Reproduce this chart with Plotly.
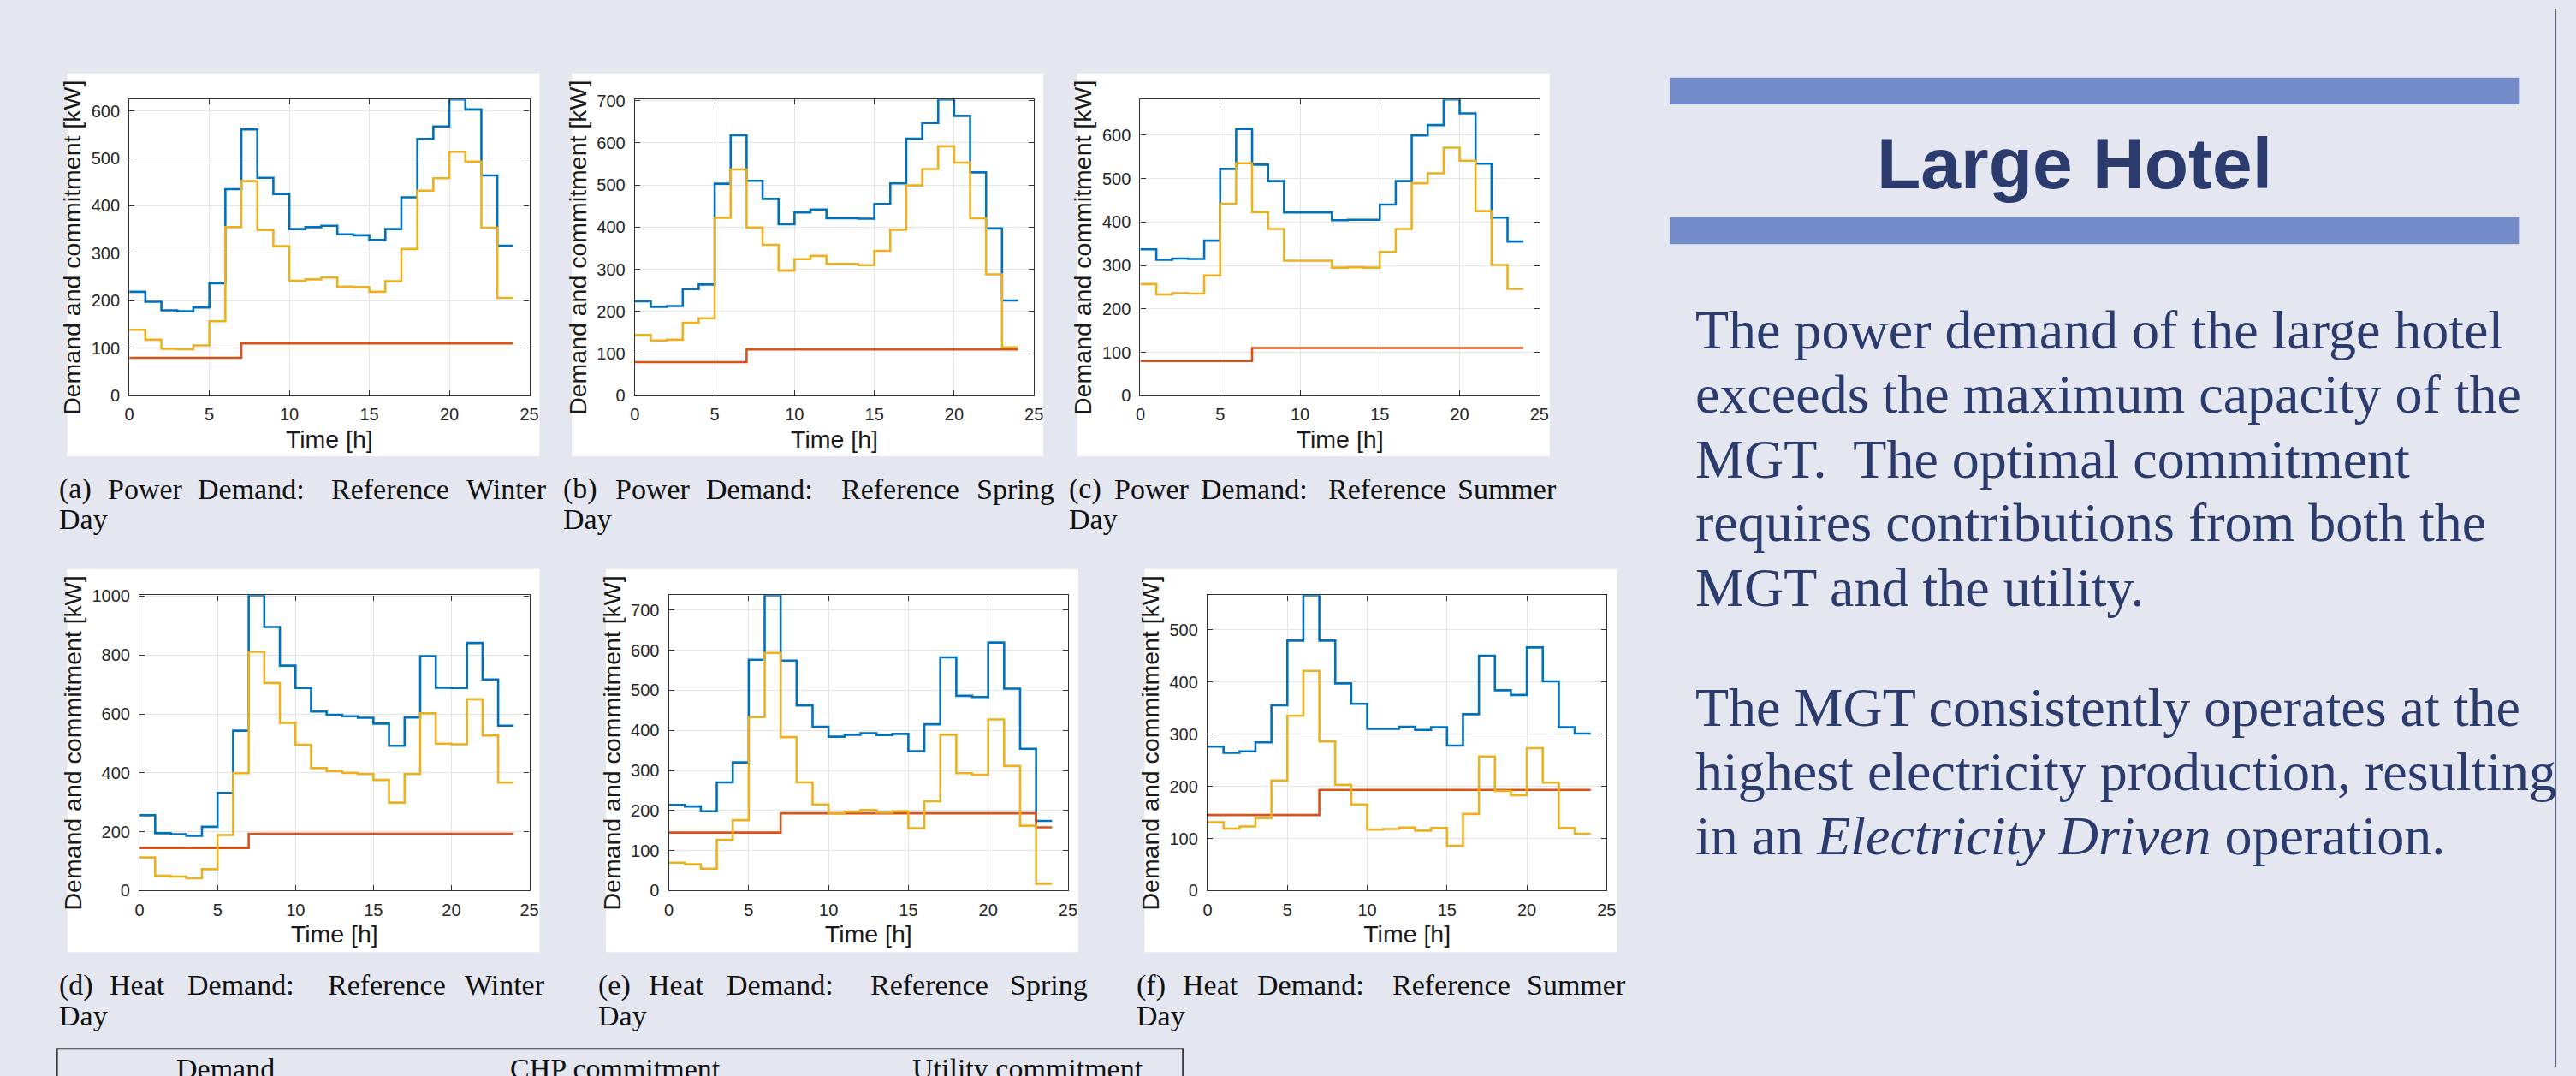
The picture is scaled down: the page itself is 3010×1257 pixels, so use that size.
import plotly.graph_objects as go

W, H = 3010, 1257

# ---------------- data (hourly values, 0..23 h) ----------------
hours = list(range(25))  # stair edges 0..24

power_winter_demand = [219, 198, 180, 178, 186, 237, 435, 561, 459, 425, 351, 355,
                       358, 340, 338, 328, 351, 418, 541, 567, 624, 603, 464, 316]
power_winter_chp = [80, 80, 80, 80, 80, 80, 80, 110, 110, 110, 110, 110,
                    110, 110, 110, 110, 110, 110, 110, 110, 110, 110, 110, 110]
power_winter_utility = [139, 118, 99, 98, 106, 157, 355, 452, 349, 315, 242, 245,
                        249, 230, 229, 219, 241, 309, 432, 458, 514, 493, 354, 206]

power_spring_demand = [224, 211, 213, 253, 264, 503, 618, 510, 467, 407, 435, 442,
                       421, 421, 420, 455, 504, 610, 647, 703, 664, 530, 397, 226]
power_spring_chp = [80, 80, 80, 80, 80, 80, 80, 110, 110, 110, 110, 110,
                    110, 110, 110, 110, 110, 110, 110, 110, 110, 110, 110, 110]
power_spring_utility = [144, 131, 133, 173, 184, 422, 537, 399, 358, 297, 324, 332,
                        313, 313, 310, 344, 394, 499, 538, 592, 553, 421, 288, 115]

power_summer_demand = [337, 313, 316, 315, 357, 522, 614, 532, 494, 422, 422, 422,
                       404, 405, 405, 440, 494, 599, 623, 682, 650, 534, 410, 355]
power_summer_chp = [80, 80, 80, 80, 80, 80, 80, 110, 110, 110, 110, 110,
                    110, 110, 110, 110, 110, 110, 110, 110, 110, 110, 110, 110]
power_summer_utility = [257, 233, 236, 235, 277, 442, 535, 423, 384, 311, 311, 311,
                        295, 296, 295, 331, 384, 489, 512, 571, 541, 425, 301, 246]

heat_winter_demand = [256, 195, 192, 186, 217, 332, 543, 1003, 895, 764, 688, 608,
                      597, 592, 587, 567, 492, 588, 796, 689, 688, 841, 717, 560]
heat_winter_chp = [145, 145, 145, 145, 145, 145, 145, 193, 193, 193, 193, 193,
                   193, 193, 193, 193, 193, 193, 193, 193, 193, 193, 193, 193]
heat_winter_utility = [113, 51, 48, 42, 73, 189, 399, 811, 705, 570, 495, 416,
                       406, 400, 396, 376, 299, 396, 602, 499, 497, 650, 527, 367]

heat_spring_demand = [214, 210, 198, 270, 320, 576, 737, 574, 462, 409, 384, 389,
                      393, 388, 391, 348, 415, 582, 486, 483, 619, 504, 354, 174]
heat_spring_chp = [145, 145, 145, 145, 145, 145, 145, 193, 193, 193, 193, 193,
                   193, 193, 193, 193, 193, 193, 193, 193, 193, 193, 193, 158]
heat_spring_utility = [70, 66, 55, 127, 176, 433, 593, 383, 270, 215, 193, 197,
                       201, 195, 198, 156, 223, 389, 293, 289, 427, 311, 162, 17]

heat_summer_demand = [276, 264, 267, 284, 355, 479, 566, 479, 397, 358, 310, 310,
                      314, 308, 313, 278, 338, 450, 384, 375, 466, 401, 313, 301]
heat_summer_chp = [145, 145, 145, 145, 145, 145, 145, 193, 193, 193, 193, 193,
                   193, 193, 193, 193, 193, 193, 193, 193, 193, 193, 193, 193]
heat_summer_utility = [131, 119, 123, 139, 211, 335, 421, 286, 203, 165, 117, 118,
                       121, 115, 120, 86, 147, 257, 191, 183, 273, 207, 120, 109]

series_names = ["Demand", "CHP commitment", "Utility commitment"]
x_ticks = [0, 5, 10, 15, 20, 25]
y_dticks = [100, 100, 100, 200, 100, 100]

caption_words = [
    ["(a)", "Power", "Demand:", "Reference", "Winter"],
    ["(b)", "Power", "Demand:", "Reference", "Spring"],
    ["(c)", "Power", "Demand:", "Reference", "Summer"],
    ["(d)", "Heat", "Demand:", "Reference", "Winter"],
    ["(e)", "Heat", "Demand:", "Reference", "Spring"],
    ["(f)", "Heat", "Demand:", "Reference", "Summer"],
]

panels = [
    (power_winter_demand, power_winter_chp, power_winter_utility),
    (power_spring_demand, power_spring_chp, power_spring_utility),
    (power_summer_demand, power_summer_chp, power_summer_utility),
    (heat_winter_demand, heat_winter_chp, heat_winter_utility),
    (heat_spring_demand, heat_spring_chp, heat_spring_utility),
    (heat_summer_demand, heat_summer_chp, heat_summer_utility),
]

# ---------------- layout geometry (pixels) ----------------
# plot areas: (x0, x1, y_top, y_bottom)
plot_px = [
    (146, 616, 108, 460),
    (740, 1209, 108, 460),
    (1334, 1803, 108, 460),
    (158, 616, 697, 1048),
    (780, 1249, 697, 1048),
    (1413, 1882, 697, 1048),
]
# white figure boxes
box_px = [
    (73, 628, 77, 532),
    (666, 1220, 77, 532),
    (1260, 1815, 77, 532),
    (73, 628, 666, 1121),
    (706, 1261, 666, 1121),
    (1339, 1894, 666, 1121),
]
# caption word x-positions and line centres
caption_x = [
    [61, 119, 224, 381, 540],
    [654, 715, 822, 981, 1139],
    [1248, 1301, 1403, 1553, 1705],
    [61, 121, 212, 377, 538],
    [695, 754, 846, 1015, 1179],
    [1328, 1382, 1469, 1628, 1786],
]
caption_y = [(571, 607)] * 3 + [(1160, 1196)] * 3

colors = ["#0072BD", "#D95319", "#EDB120"]
AX_COL = "#333333"
BG = "#e4e7f0"
NAVY = "#2c3b6d"
SERIF = "Liberation Serif, Times New Roman, serif"
CAP_SIZE = 34


def px_x(v):
    return v / W


def px_y(v):
    return 1 - v / H


fig = go.Figure()
layout = dict(
    width=W, height=H,
    margin=dict(l=0, r=0, t=0, b=0),
    paper_bgcolor=BG, plot_bgcolor="white",
    showlegend=False,
    font=dict(family="Liberation Sans, Arial, sans-serif", color="#262626"),
)

shapes = []
annotations = []

for i, (series, (x0, x1, yt, yb)) in enumerate(zip(panels, plot_px)):
    n = "" if i == 0 else str(i + 1)
    for vals, name, col in zip(series, series_names, colors):
        fig.add_trace(go.Scatter(
            x=hours, y=list(vals) + [vals[-1]], mode="lines", name=name,
            line=dict(color=col, width=2.6, shape="hv"),
            xaxis="x" + n, yaxis="y" + n, showlegend=False,
        ))
    ymax = max(series[0])
    layout["xaxis" + n] = dict(
        domain=[px_x(x0), px_x(x1)], anchor="y" + n,
        range=[0, 25], tickvals=x_ticks,
        showline=True, mirror="ticks", linecolor=AX_COL, linewidth=1.3,
        ticks="inside", ticklen=6, tickcolor=AX_COL, tickwidth=1,
        showgrid=True, gridcolor="#e4e4e4", gridwidth=1, zeroline=False,
        tickfont=dict(size=20, color="#262626"),
        ticklabelstandoff=4,
        title=dict(text="Time [h]", font=dict(size=28.5, color="#1a1a1a"), standoff=8),
        fixedrange=True,
    )
    layout["yaxis" + n] = dict(
        domain=[px_y(yb), px_y(yt)], anchor="x" + n,
        range=[0, ymax], dtick=y_dticks[i], tick0=0,
        showline=True, mirror="ticks", linecolor=AX_COL, linewidth=1.3,
        ticks="inside", ticklen=6, tickcolor=AX_COL, tickwidth=1,
        showgrid=True, gridcolor="#e4e4e4", gridwidth=1, zeroline=False,
        tickfont=dict(size=20, color="#262626"),
        ticklabelstandoff=6,
        title=dict(text="Demand and commitment [kW]", font=dict(size=28.5, color="#1a1a1a"), standoff=3),
        fixedrange=True,
    )
    bx0, bx1, by0, by1 = box_px[i]
    shapes.append(dict(type="rect", xref="paper", yref="paper", layer="below",
                       x0=px_x(bx0), x1=px_x(bx1), y0=px_y(by1), y1=px_y(by0),
                       fillcolor="white", line=dict(width=0)))
    # caption (justified words)
    ly1, ly2 = caption_y[i]
    for word, wx in zip(caption_words[i], caption_x[i]):
        annotations.append(dict(text=word, x=px_x(wx), y=px_y(ly1), xref="paper", yref="paper",
                                xanchor="left", yanchor="middle", showarrow=False,
                                font=dict(family=SERIF, size=CAP_SIZE, color="#111111")))
    annotations.append(dict(text="Day", x=px_x(caption_x[i][0]), y=px_y(ly2), xref="paper", yref="paper",
                            xanchor="left", yanchor="middle", showarrow=False,
                            font=dict(family=SERIF, size=CAP_SIZE, color="#111111")))

# legend box (cut off at the bottom of the poster)
shapes.append(dict(type="rect", xref="paper", yref="paper",
                   x0=px_x(61), x1=px_x(1384), y0=px_y(1320), y1=px_y(1236),
                   line=dict(color="#3a3a3a", width=2), fillcolor="rgba(0,0,0,0)"))
legend_x = [199, 591, 1064]
for name, lx in zip(series_names, legend_x):
    annotations.append(dict(text=name, x=px_x(lx), y=px_y(1239), xref="paper", yref="paper",
                            xanchor="left", yanchor="top", showarrow=False,
                            font=dict(family=SERIF, size=CAP_SIZE, color="#111111")))

# right-hand text panel
BAR = "#738bc8"
shapes.append(dict(type="rect", xref="paper", yref="paper", x0=px_x(1956), x1=px_x(2954),
                   y0=px_y(114), y1=px_y(82), fillcolor=BAR, line=dict(width=0)))
shapes.append(dict(type="rect", xref="paper", yref="paper", x0=px_x(1956), x1=px_x(2954),
                   y0=px_y(280), y1=px_y(248), fillcolor=BAR, line=dict(width=0)))
shapes.append(dict(type="line", xref="paper", yref="paper", x0=px_x(2997), x1=px_x(2997),
                   y0=0, y1=1, line=dict(color="#5c6680", width=2)))

annotations.append(dict(text="<b>Large Hotel</b>", x=px_x(2432), y=px_y(184), xref="paper", yref="paper",
                        xanchor="center", yanchor="middle", showarrow=False,
                        font=dict(family="Liberation Sans, Arial, sans-serif", size=84, color=NAVY)))

body_lines = [
    "The power demand of the large hotel",
    "exceeds the maximum capacity of the",
    "MGT.\u00a0 The optimal commitment",
    "requires contributions from both the",
    "MGT and the utility.",
    "The MGT consistently operates at the",
    "highest electricity production, resulting",
    "in an <i>Electricity Driven</i> operation.",
]
body_centres = [382, 458, 535, 611, 688, 830, 907, 983]
for line, cy in zip(body_lines, body_centres):
    annotations.append(dict(text=line, x=px_x(1984), y=px_y(cy), xref="paper", yref="paper",
                            xanchor="left", yanchor="middle", showarrow=False,
                            font=dict(family=SERIF, size=64, color=NAVY)))

layout["shapes"] = shapes
layout["annotations"] = annotations
fig.update_layout(**layout)

fig.write_html("out.html", config={"displayModeBar": False},
               post_script="document.body.style.margin='0';document.body.style.overflow='hidden';")
